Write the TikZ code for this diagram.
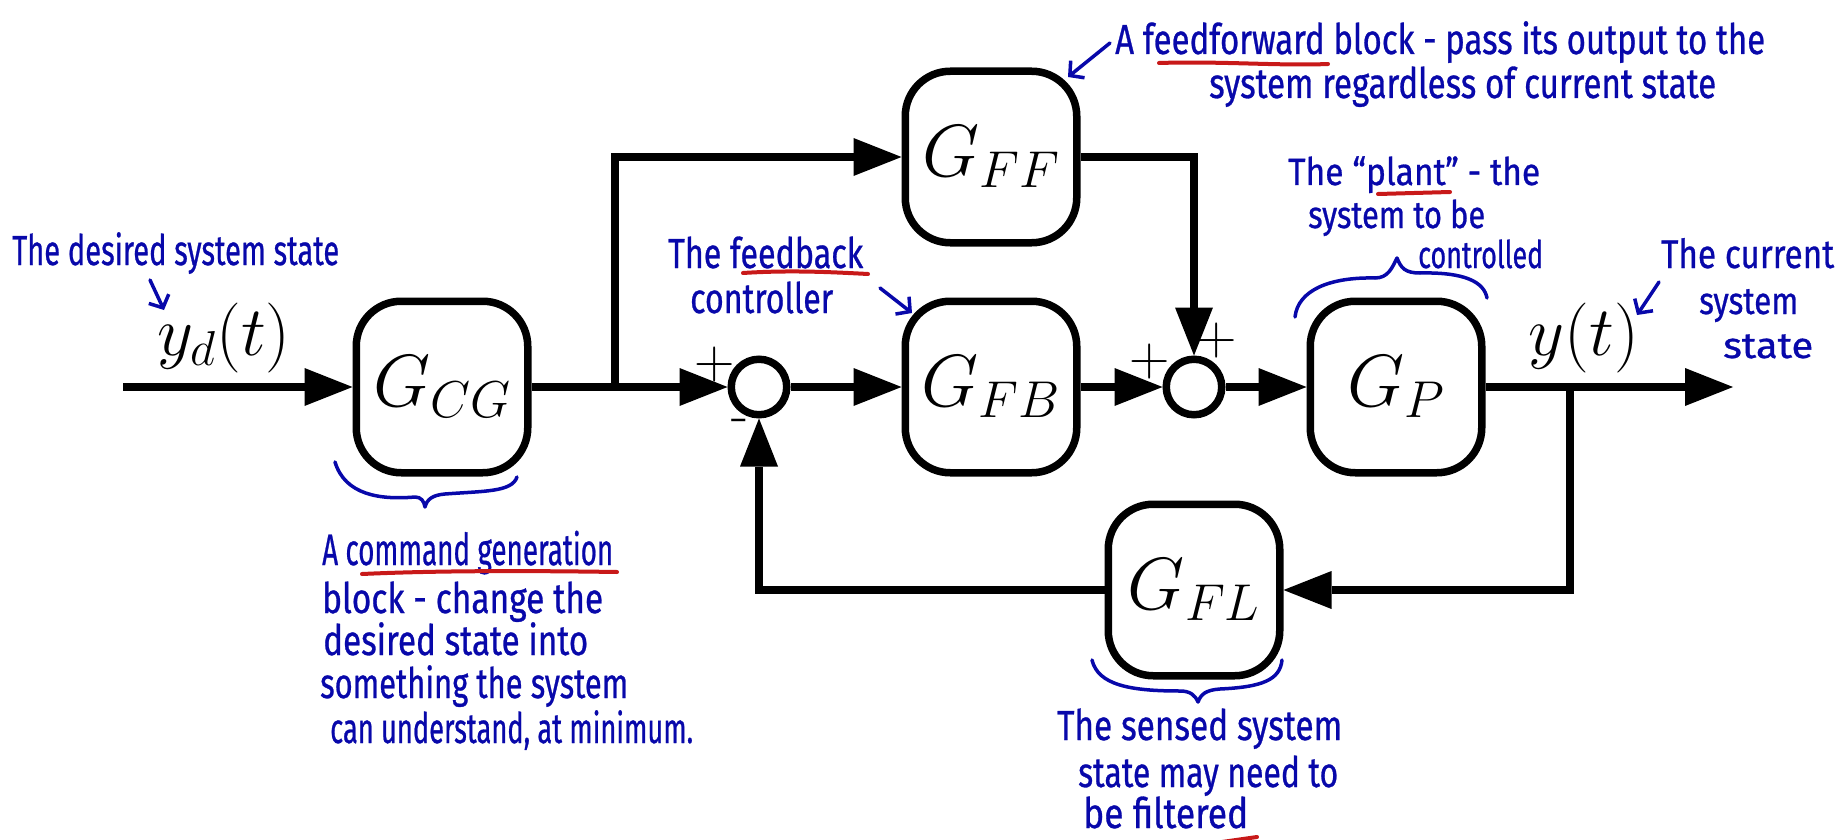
\RequirePackage{fix-cm}
\documentclass[tikz,border=0pt]{standalone}
\usepackage{fontspec}
\usepackage{graphicx}
\newfontfamily\handfont[FakeBold=0.8]{Fira Sans}
\usetikzlibrary{arrows.meta,calc}
\definecolor{handblue}{RGB}{8,8,170}
\definecolor{markred}{RGB}{200,25,25}
\newcommand\hwline[5]{\node[hw, font=\handfont\fontsize{#3}{#3}\selectfont] (#1) at (#2) {\resizebox{#4pt}{\height}{#5}};}
\begin{document}
\begin{tikzpicture}[x=1pt,y=-1pt,
  blk/.style={draw, line width=7.5pt, rounded corners=45pt, minimum width=171.5pt, minimum height=171.5pt, inner sep=0pt, font=\fontsize{74}{80}\selectfont},
  sumn/.style={draw, circle, line width=7.5pt, minimum size=55.5pt, inner sep=0pt},
  sig/.style={line width=7.5pt, -{Triangle[length=48pt,width=38pt,line width=0pt]}},
  sgn/.style={inner sep=0pt, font=\fontsize{56}{60}\selectfont},
  lbl/.style={inner sep=0pt, anchor=base, font=\fontsize{70}{80}\selectfont},
  hw/.style={anchor=base west, inner sep=0pt, text=handblue},
  hand/.style={draw=handblue, line width=3.5pt, line cap=round, line join=round},
  handarrow/.style={hand, -{Straight Barb[length=10pt,width=22pt]}},
  redmark/.style={draw=markred, line width=4pt, line cap=round}
]
\fill[white] (0,0) rectangle (1839,840);
\path[use as bounding box] (0,0) rectangle (1839,840);

% blocks
\node[blk] (GCG) at (442,387) {$G_{CG}$};
\node[blk] (GFF) at (991,157) {$G_{FF}$};
\node[blk] (GFB) at (991,387) {$G_{FB}$};
\node[blk] (GP) at (1396,387) {$G_{P}$};
\node[blk] (GFL) at (1194,590) {$G_{FL}$};
\node[sumn] (S1) at (759,387) {};
\node[sumn] (S2) at (1194,387) {};

\coordinate (in) at (123,387);
\coordinate (B1) at (615,387);
\coordinate (B2) at (1570,387);
\coordinate (out) at (1733,387);

% signals
\draw[sig] (in) -- (GCG);
\draw[sig] (GCG) -- (S1);
\draw[sig] (B1) |- (GFF);
\draw[sig] (S1) -- (GFB);
\draw[sig] (GFB) -- (S2);
\draw[sig] (GFF) -| (S2);
\draw[sig] (S2) -- (GP);
\draw[sig] (GP) -- (out);
\draw[sig] (B2) |- (GFL);
\draw[sig] (GFL) -| (S1);

% signs
\node[sgn] (p1) at (715,365) {+};
\node[sgn] (m1) at (740,426) {-};
\node[sgn] (p2) at (1150,362) {+};
\node[sgn] (p3) at (1217,341) {+};

% signal labels
\node[lbl] (yd) at (224,355) {$y_d(t)$};
\node[lbl] (y) at (1584,355) {$y(t)$};

% handwritten notes
\hwline{d1}{12,265}{42}{327}{The desired system state}
\hwline{ff1}{1115,54}{42}{650}{A feedforward block - pass its output to the}
\hwline{ff2}{1209,98}{42}{507}{system regardless of current state}
\hwline{fb1}{668,268}{42}{195}{The feedback}
\hwline{fb2}{690,313}{42}{143}{controller}
\hwline{pl1}{1288,185}{38}{252}{The “plant” - the}
\hwline{pl2}{1308,228}{38}{177}{system to be}
\hwline{pl3}{1418,268}{38}{125}{controlled}
\hwline{cu1}{1661,268}{40}{173}{The current}
\hwline{cu2}{1699,314}{38}{99}{system}
\hwline{cu3}{1723,358}{36}{90}{state}
\hwline{cg1}{322,565}{44}{291}{A command generation}
\hwline{cg2}{322,613}{42}{281}{block - change the}
\hwline{cg3}{323,655}{42}{265}{desired state into}
\hwline{cg4}{320,698}{42}{308}{something the system}
\hwline{cg5}{330,743}{42}{363}{can understand, at minimum.}
\hwline{se1}{1057,740}{42}{285}{The sensed system}
\hwline{se2}{1078,787}{42}{260}{state may need to}
\hwline{se3}{1083,828}{42}{165}{be filtered}

% red underlines
\draw[redmark] (1159,63) .. controls (1220,61) and (1280,66) .. (1328,64);
\draw[redmark] (743,273) .. controls (790,270) and (830,272) .. (868,274);
\draw[redmark] (1378,194) -- (1450,192);
\draw[redmark] (362,574) .. controls (450,570) and (550,571) .. (617,572);
\draw[redmark] (1222,842) -- (1257,837);

% braces
\draw[hand] (335,462) .. controls (345,495) and (380,500) .. (415,497) .. controls (421,497) and (424,501) .. (425,507) .. controls (427,499) and (433,495) .. (445,494) .. controls (485,491) and (512,492) .. (517,477);
\draw[hand] (1295,317) .. controls (1298,290) and (1330,277) .. (1375,278) .. controls (1388,278) and (1392,268) .. (1397,258) .. controls (1401,268) and (1405,273) .. (1420,273) .. controls (1465,272) and (1484,282) .. (1487,298);
\draw[hand] (1092,660) .. controls (1098,685) and (1130,691) .. (1180,691) .. controls (1190,691) and (1195,695) .. (1198,702) .. controls (1201,694) and (1206,690) .. (1220,689) .. controls (1262,687) and (1280,680) .. (1282,660);

% pointer arrows
\coordinate (a1s) at (150,280); \coordinate (a1e) at (164,310);
\coordinate (a2s) at (1110,43); \coordinate (a2e) at (1068,77);
\coordinate (a3s) at (880,288); \coordinate (a3e) at (912,313);
\coordinate (a4s) at (1659,282); \coordinate (a4e) at (1637,315);
\draw[handarrow] (a1s) -- (a1e);
\draw[handarrow] (a2s) -- (a2e);
\draw[handarrow] (a3s) -- (a3e);
\draw[handarrow] (a4s) -- (a4e);
\end{tikzpicture}
\end{document}
